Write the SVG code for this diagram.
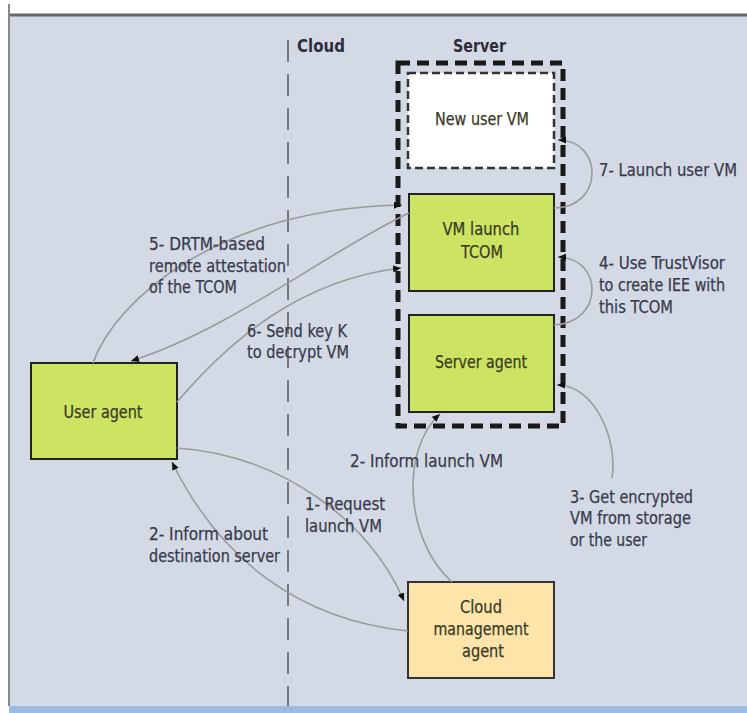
<svg xmlns="http://www.w3.org/2000/svg" width="747" height="713" viewBox="0 0 747 713">
  <style>
    .lbl { font-family: "DejaVu Sans Condensed", "Liberation Sans", sans-serif; font-size: 17px; fill: #3a3a4c; stroke: #3a3a4c; stroke-width: 0.25; }
    .node-text { font-family: "DejaVu Sans Condensed", "Liberation Sans", sans-serif; font-size: 18px; fill: #3a3a26; stroke: #3a3a26; stroke-width: 0.25; text-anchor: middle; }
    .hdr { font-family: "DejaVu Sans Condensed", "Liberation Sans", sans-serif; font-size: 18px; font-weight: bold; fill: #2e2e3a; }
    .box-green { fill: #cde462; stroke: #222; stroke-width: 2; }
    .box-orange { fill: #fde4a8; stroke: #333; stroke-width: 2; }
    .conn { fill: none; stroke: #9a9a9a; stroke-width: 1.6; marker-end: url(#arrow); }
  </style>
  <defs>
    <marker id="arrow" markerUnits="userSpaceOnUse" markerWidth="9" markerHeight="8" refX="8" refY="3.5" orient="auto">
      <path d="M0,0 L8,3.5 L0,7 z" fill="#111"/>
    </marker>
  </defs>

  <!-- background -->
  <rect x="0" y="0" width="747" height="713" fill="#ffffff"/>
  <rect x="9" y="15" width="738" height="691" fill="#d3dae6"/>
  <line x1="9" y1="15" x2="747" y2="15" stroke="#666" stroke-width="3"/>
  <line x1="9" y1="4" x2="9" y2="706" stroke="#888" stroke-width="2"/>
  <rect x="9" y="706" width="738" height="7" fill="#9fbbe3"/>

  <!-- cloud / server divider -->
  <line x1="288" y1="40" x2="288" y2="706" stroke="#777" stroke-width="2" stroke-dasharray="22 12"/>
  <text class="hdr" x="297" y="52" textLength="48" lengthAdjust="spacingAndGlyphs">Cloud</text>
  <text class="hdr" x="453" y="52" textLength="53" lengthAdjust="spacingAndGlyphs">Server</text>

  <!-- server boundary -->
  <g id="server">
    <rect x="398" y="63" width="165" height="363" fill="none" stroke="#1a1a1a" stroke-width="5" stroke-dasharray="12 7"/>
  </g>

  <g id="new-user-vm">
    <rect x="408" y="73" width="146" height="95" fill="#ffffff" stroke="#333" stroke-width="2.5" stroke-dasharray="8 4"/>
    <text class="node-text" x="482" y="125" textLength="94" lengthAdjust="spacingAndGlyphs">New user VM</text>
  </g>

  <g id="vm-launch-tcom">
    <rect class="box-green" x="409" y="194" width="145" height="97"/>
    <text class="node-text" x="481" y="235" textLength="77" lengthAdjust="spacingAndGlyphs">VM launch</text>
    <text class="node-text" x="482" y="258" textLength="42" lengthAdjust="spacingAndGlyphs">TCOM</text>
  </g>

  <g id="server-agent">
    <rect class="box-green" x="409" y="315" width="145" height="97"/>
    <text class="node-text" x="481" y="368" textLength="92" lengthAdjust="spacingAndGlyphs">Server agent</text>
  </g>

  <g id="user-agent">
    <rect class="box-green" x="31" y="363" width="146" height="96"/>
    <text class="node-text" x="103" y="418" textLength="79" lengthAdjust="spacingAndGlyphs">User agent</text>
  </g>

  <g id="cloud-management-agent">
    <rect class="box-orange" x="408" y="582" width="146" height="96"/>
    <text class="node-text" x="481" y="613" textLength="42" lengthAdjust="spacingAndGlyphs">Cloud</text>
    <text class="node-text" x="481" y="635" textLength="95" lengthAdjust="spacingAndGlyphs">management</text>
    <text class="node-text" x="483" y="657" textLength="42" lengthAdjust="spacingAndGlyphs">agent</text>
  </g>

  <!-- connectors -->
  <g id="connectors">
    <path class="conn" d="M 554 208 C 604 208, 604 140, 558 140"/>
    <path class="conn" d="M 554 325 C 604 323, 604 258, 558 257"/>
    <path class="conn" d="M 93 363 C 115 300, 220 208, 402 205"/>
    <path class="conn" d="M 409 213 C 330 250, 230 330, 131 361"/>
    <path class="conn" d="M 177 402 C 230 340, 300 280, 401 268"/>
    <path class="conn" d="M 177 448 C 280 455, 370 520, 404 601"/>
    <path class="conn" d="M 408 631 C 300 620, 220 560, 172 462"/>
    <path class="conn" d="M 452 582 C 405 540, 400 450, 440 414"/>
    <path class="conn" d="M 612 478 C 618 440, 595 385, 557 385"/>
  </g>

  <!-- labels -->
  <g id="labels">
    <text class="lbl" x="599" y="176" textLength="138" lengthAdjust="spacingAndGlyphs">7- Launch user VM</text>
    <text class="lbl" x="599" y="269" textLength="126" lengthAdjust="spacingAndGlyphs">4- Use TrustVisor</text>
    <text class="lbl" x="599" y="291" textLength="126" lengthAdjust="spacingAndGlyphs">to create IEE with</text>
    <text class="lbl" x="599" y="313" textLength="74" lengthAdjust="spacingAndGlyphs">this TCOM</text>
    <text class="lbl" x="149" y="250" textLength="116" lengthAdjust="spacingAndGlyphs">5- DRTM-based</text>
    <text class="lbl" x="149" y="272" textLength="137" lengthAdjust="spacingAndGlyphs">remote attestation</text>
    <text class="lbl" x="149" y="293" textLength="88" lengthAdjust="spacingAndGlyphs">of the TCOM</text>
    <text class="lbl" x="247" y="337" textLength="100" lengthAdjust="spacingAndGlyphs">6- Send key K</text>
    <text class="lbl" x="247" y="358" textLength="102" lengthAdjust="spacingAndGlyphs">to decrypt VM</text>
    <text class="lbl" x="350" y="467" textLength="153" lengthAdjust="spacingAndGlyphs">2- Inform launch VM</text>
    <text class="lbl" x="305" y="510" textLength="80" lengthAdjust="spacingAndGlyphs">1- Request</text>
    <text class="lbl" x="305" y="532" textLength="77" lengthAdjust="spacingAndGlyphs">launch VM</text>
    <text class="lbl" x="149" y="540" textLength="119" lengthAdjust="spacingAndGlyphs">2- Inform about</text>
    <text class="lbl" x="149" y="562" textLength="131" lengthAdjust="spacingAndGlyphs">destination server</text>
    <text class="lbl" x="570" y="503" textLength="123" lengthAdjust="spacingAndGlyphs">3- Get encrypted</text>
    <text class="lbl" x="570" y="524" textLength="121" lengthAdjust="spacingAndGlyphs">VM from storage</text>
    <text class="lbl" x="570" y="546" textLength="77" lengthAdjust="spacingAndGlyphs">or the user</text>
  </g>
</svg>
